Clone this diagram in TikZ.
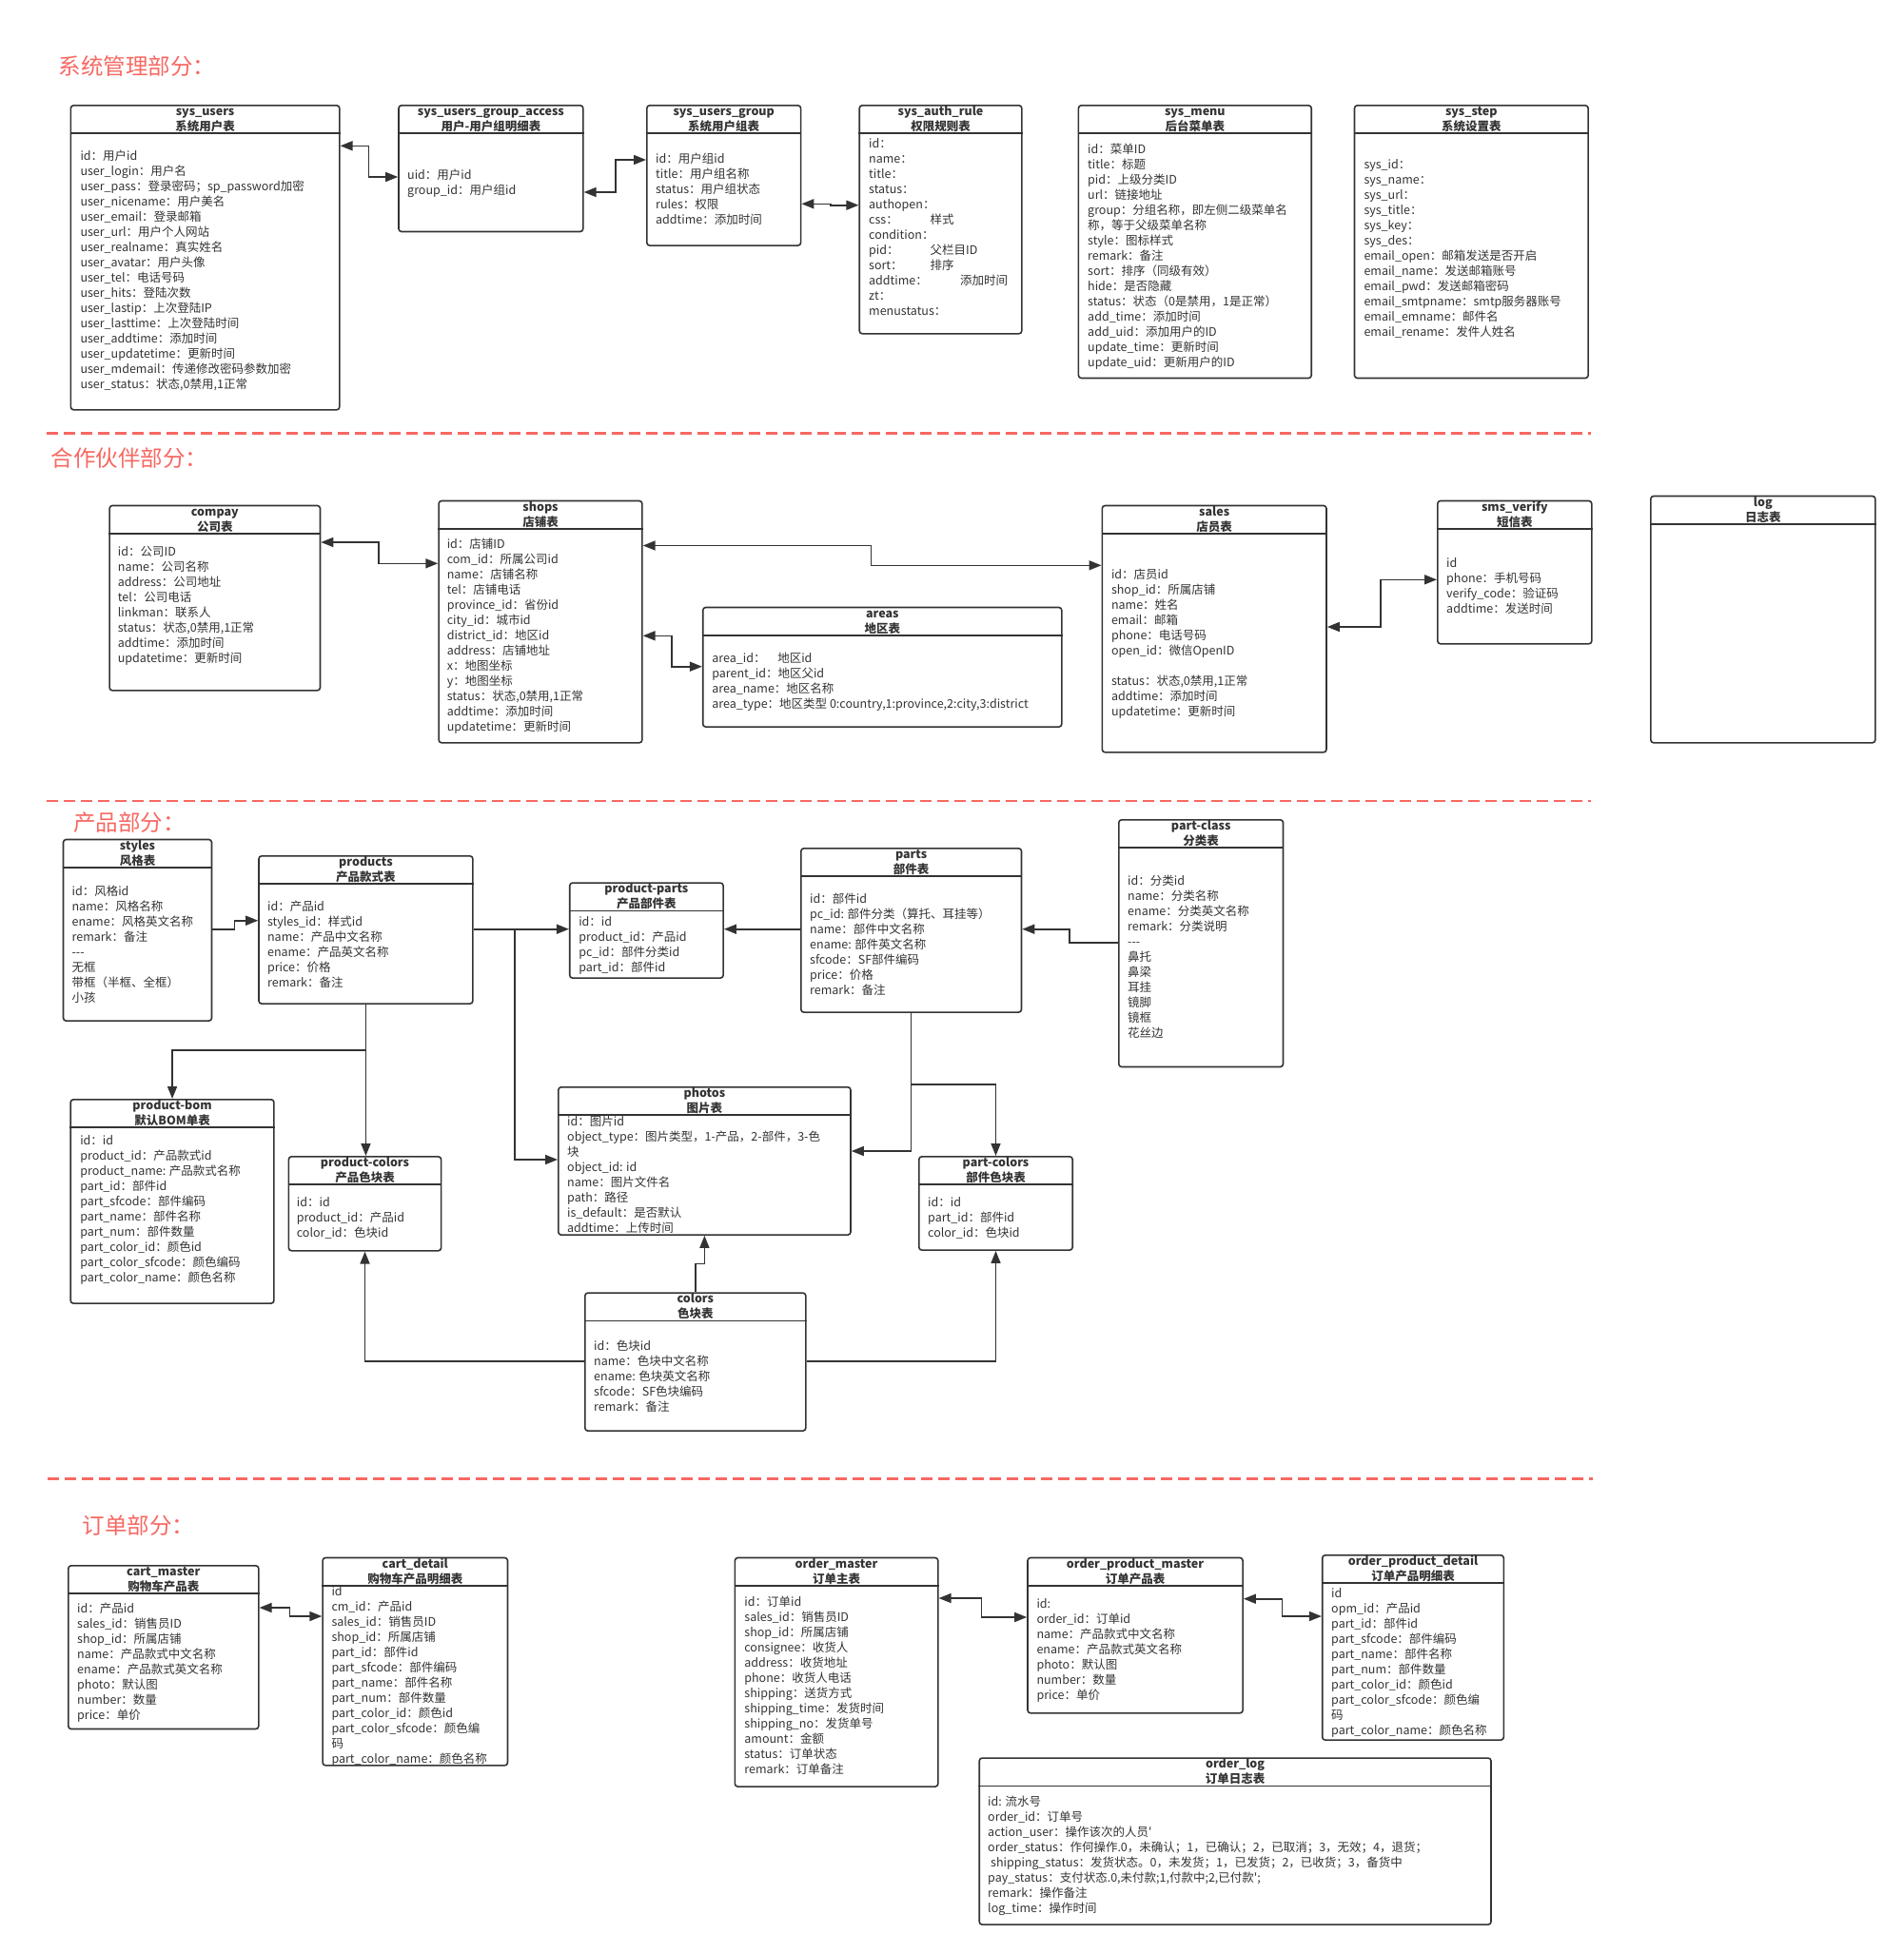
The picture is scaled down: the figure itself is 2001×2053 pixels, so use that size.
\documentclass[tikz,border=0pt]{standalone}
\usepackage{fontspec}
\setmainfont{Noto Sans CJK SC}[Ligatures=TeXOff]
\usetikzlibrary{arrows.meta}
\definecolor{ink}{HTML}{333333}
\definecolor{partred}{HTML}{F76862}

\begin{document}
\begin{tikzpicture}[x=1pt, y=-1pt, >={Triangle[length=13pt,width=10pt]}]

    \tikzset{%
    every table/.style={
        draw=ink,
        line width=1.6pt,
        rounded corners=3pt,
        inner sep=0pt,
        anchor=north west
        },
    table head/.style={
        anchor=north,
        inner sep=0pt,
        align=center,
        text=ink,
        font=\bfseries\fontsize{12.5}{16}\selectfont
        },
    table body/.style={
        anchor=north west,
        inner sep=0pt,
        align=left,
        text=ink,
        font=\fontsize{12.5}{16}\selectfont
        },
    part title/.style={
        anchor=west,
        inner sep=0pt,
        text=partred,
        font=\fontsize{23.5}{28}\selectfont
        },
    part line/.style={draw=partred, line width=2.5pt, dash pattern=on 12pt off 6pt},
    link/.style={draw=ink, line width=1.6pt},
    }

    % Page
    \path[fill=white] (0,0) rectangle (2001,2053);

    % Part titles
    \node[part title] (part-sys) at (61.5,69.4) {系统管理部分：};
    \node[part title] (part-partner) at (53.7,482) {合作伙伴部分：};
    \node[part title] (part-product) at (76.8,865) {产品部分：};
    \node[part title] (part-order) at (86.4,1604) {订单部分：};

    % Dashed separators
    \draw[part line] (48.5,455.7) -- (1672.4,455.7);
    \draw[part line] (48.5,842) -- (1672.4,842);
    \draw[part line] (49.8,1554.5) -- (1673.7,1554.5);

    % Table boxes: name/left/top/width/height
    \foreach \n/\x/\y/\w/\h in {susers/73.6/110/282.4/320, access/418.2/110/193.8/132.7,
      group/679/110/161.8/147.3, authrule/902.4/110/170.6/240, smenu/1132.6/110/244.8/286.7,
      sstep/1422.7/110/245.6/286.7, compay/114.3/530.7/221.4/194.3, shops/460.3/525.7/213.8/254.3,
      areas/737.9/637.7/377.1/125.6, sales/1157.5/530.7/235.7/259.3, sms/1510/525.7/162/150.3,
      log/1734/520.7/236/259.3, styles/65.7/881.7/156/190.6, products/271.2/899/224.9/155.3,
      pparts/597.9/927.3/161.4/100, parts/841/891/231.7/172.3, pclass/1175/861/172.7/259.7,
      pbom/73.4/1155/213.7/214.3, pcolors/302.6/1215/160.2/99, photos/586/1142/307.2/155.3,
      colors/614/1358.3/232/145, partcolors/965/1215/161.4/98.3, cartm/71/1645/200/171.7,
      cartd/338.3/1636.7/194.4/218.3, om/771.6/1636.7/213.4/240.6, opm/1079.2/1636.7/226.1/163.3,
      opd/1388.9/1634/190.6/194.3, olog/1028.4/1847.3/537.8/175}
    \node[every table, minimum width=\w pt, minimum height=\h pt] (\n) at (\x,\y) {};

    % Table headers
    \foreach \n/\a/\b in {susers/sys\_users/系统用户表, access/sys\_users\_group\_access/用户-用户组明细表,
      group/sys\_users\_group/系统用户组表, authrule/sys\_auth\_rule/权限规则表, smenu/sys\_menu/后台菜单表,
      sstep/sys\_step/系统设置表, compay/compay/公司表, shops/shops/店铺表, areas/areas/地区表,
      sales/sales/店员表, sms/sms\_verify/短信表, log/log/日志表, styles/styles/风格表,
      products/products/产品款式表, pparts/product-parts/产品部件表, parts/parts/部件表,
      pclass/part-class/分类表, pbom/product-bom/默认BOM单表, pcolors/product-colors/产品色块表,
      photos/photos/图片表, colors/colors/色块表, partcolors/part-colors/部件色块表,
      cartm/cart\_master/购物车产品表, cartd/cart\_detail/购物车产品明细表, om/order\_master/订单主表,
      opm/order\_product\_master/订单产品表, opd/order\_product\_detail/订单产品明细表,
      olog/order\_log/订单日志表}
    {
    \draw[link] ([yshift=-30pt]\n.north west) -- ([yshift=-30pt]\n.north east);
    \node[table head] (\n-head) at (\n.north) {\strut\a\\\b};
    }

    % Fields of the system tables
    \node[table body] (susers-body) at (84.3,156.9) {\strut id：用户id\\user\_login：用户名\\user\_pass：登录密码；sp\_password加密\\user\_nicename：用户美名\\user\_email：登录邮箱\\user\_url：用户个人网站\\user\_realname：真实姓名\\user\_avatar：用户头像\\user\_tel：电话号码\\user\_hits：登陆次数\\user\_lastip：上次登陆IP\\user\_lasttime：上次登陆时间\\user\_addtime：添加时间\\user\_updatetime：更新时间\\user\_mdemail：传递修改密码参数加密\\user\_status：状态,0禁用,1正常};
    \node[table body] (access-body) at (428,176.9) {\strut uid：用户id\\group\_id：用户组id};
    \node[table body] (group-body) at (689,160.3) {\strut id：用户组id\\title：用户组名称\\status：用户组状态\\rules：权限\\addtime：添加时间};
    \node[table body] (authrule-body) at (913,143.6) {\strut id：\\name：\\title：\\status：\\authopen：\\\makebox[64.5pt][l]{css：}样式\\condition：\\\makebox[64.5pt][l]{pid：}父栏目ID\\\makebox[64.5pt][l]{sort：}排序\\\makebox[96pt][l]{addtime：}添加时间\\zt：\\menustatus：};
    \node[table body] (smenu-body) at (1143,149.6) {\strut id：菜单ID\\title：标题\\pid：上级分类ID\\url：链接地址\\group：分组名称，即左侧二级菜单名\\称，等于父级菜单名称\\style：图标样式\\remark：备注\\sort：排序（同级有效）\\hide：是否隐藏\\status：状态（0是禁用，1是正常）\\add\_time：添加时间\\add\_uid：添加用户的ID\\update\_time：更新时间\\update\_uid：更新用户的ID};
    \node[table body] (sstep-body) at (1433.3,166.3) {\strut sys\_id：\\sys\_name：\\sys\_url：\\sys\_title：\\sys\_key：\\sys\_des：\\email\_open：邮箱发送是否开启\\email\_name：发送邮箱账号\\email\_pwd：发送邮箱密码\\email\_smtpname：smtp服务器账号\\email\_emname：邮件名\\email\_rename：发件人姓名};

    % Fields of the partner tables
    \node[table body] (compay-body) at (123.7,572.9) {\strut id：公司ID\\name：公司名称\\address：公司地址\\tel：公司电话\\linkman：联系人\\status：状态,0禁用,1正常\\addtime：添加时间\\updatetime：更新时间};
    \node[table body] (shops-body) at (469.6,565.3) {\strut id：店铺ID\\com\_id：所属公司id\\name：店铺名称\\tel：店铺电话\\province\_id：省份id\\city\_id：城市id\\district\_id：地区id\\address：店铺地址\\x：地图坐标\\y：地图坐标\\status：状态,0禁用,1正常\\addtime：添加时间\\updatetime：更新时间};
    \node[table body] (areas-body) at (748.1,685.3) {\strut\makebox[69pt][l]{area\_id：}地区id\\parent\_id：地区父id\\area\_name：地区名称\\area\_type：地区类型 0:country,1:province,2:city,3:district};
    \node[table body] (sales-body) at (1167.8,596.9) {\strut id：店员id\\shop\_id：所属店铺\\name：姓名\\email：邮箱\\phone：电话号码\\open\_id：微信OpenID\\\strut\\status：状态,0禁用,1正常\\addtime：添加时间\\updatetime：更新时间};
    \node[table body] (sms-body) at (1520,584.6) {\strut id\\phone：手机号码\\verify\_code：验证码\\addtime：发送时间};

    % Fields of the product tables
    \node[table body] (styles-body) at (75.4,930.3) {\strut id：风格id\\name：风格名称\\ename：风格英文名称\\remark：备注\\---\\无框\\带框（半框、全框）\\小孩};
    \node[table body] (products-body) at (280.9,946.3) {\strut id：产品id\\styles\_id：样式id\\name：产品中文名称\\ename：产品英文名称\\price：价格\\remark：备注};
    \node[table body] (pparts-body) at (608.1,961.9) {\strut id：id\\product\_id：产品id\\pc\_id：部件分类id\\part\_id：部件id};
    \node[table body] (parts-body) at (851,937.9) {\strut id：部件id\\pc\_id: 部件分类（算托、耳挂等）\\name：部件中文名称\\ename: 部件英文名称\\sfcode：SF部件编码\\price：价格\\remark：备注};
    \node[table body] (pclass-body) at (1185,919.3) {\strut id：分类id\\name：分类名称\\ename：分类英文名称\\remark：分类说明\\---\\鼻托\\鼻梁\\耳挂\\镜脚\\镜框\\花丝边};
    \node[table body] (pbom-body) at (84.1,1191.9) {\strut id：id\\product\_id：产品款式id\\product\_name: 产品款式名称\\part\_id：部件id\\part\_sfcode：部件编码\\part\_name：部件名称\\part\_num：部件数量\\part\_color\_id：颜色id\\part\_color\_sfcode：颜色编码\\part\_color\_name：颜色名称};
    \node[table body] (pcolors-body) at (311.7,1256.9) {\strut id：id\\product\_id：产品id\\color\_id：色块id};
    \node[table body] (photos-body) at (596,1172.3) {\strut id：图片id\\object\_type：图片类型，1-产品，2-部件，3-色\\块\\object\_id: id\\name：图片文件名\\path：路径\\is\_default：是否默认\\addtime：上传时间};
    \node[table body] (colors-body) at (624,1407.9) {\strut id：色块id\\name：色块中文名称\\ename: 色块英文名称\\sfcode：SF色块编码\\remark：备注};
    \node[table body] (partcolors-body) at (975,1256.9) {\strut id：id\\part\_id：部件id\\color\_id：色块id};

    % Fields of the order tables
    \node[table body] (cartm-body) at (81,1684.3) {\strut id：产品id\\sales\_id：销售员ID\\shop\_id：所属店铺\\name：产品款式中文名称\\ename：产品款式英文名称\\photo：默认图\\number：数量\\price：单价};
    \node[table body] (cartd-body) at (348.3,1665.9) {\strut id\\cm\_id：产品id\\sales\_id：销售员ID\\shop\_id：所属店铺\\part\_id：部件id\\part\_sfcode：部件编码\\part\_name：部件名称\\part\_num：部件数量\\part\_color\_id：颜色id\\part\_color\_sfcode：颜色编\\码\\part\_color\_name：颜色名称};
    \node[table body] (om-body) at (782.2,1676.9) {\strut id：订单id\\sales\_id：销售员ID\\shop\_id：所属店铺\\consignee：收货人\\address：收货地址\\phone：收货人电话\\shipping：送货方式\\shipping\_time：发货时间\\shipping\_no：发货单号\\amount：金额\\status：订单状态\\remark：订单备注};
    \node[table body] (opm-body) at (1089.3,1678.6) {\strut id:\\order\_id：订单id\\name：产品款式中文名称\\ename：产品款式英文名称\\photo：默认图\\number：数量\\price：单价};
    \node[table body] (opd-body) at (1399,1667.6) {\strut id\\opm\_id：产品id\\part\_id：部件id\\part\_sfcode：部件编码\\part\_name：部件名称\\part\_num：部件数量\\part\_color\_id：颜色id\\part\_color\_sfcode：颜色编\\码\\part\_color\_name：颜色名称};
    \node[table body] (olog-body) at (1038,1886.9) {\strut id: 流水号\\order\_id：订单号\\action\_user：操作该次的人员'\\order\_status：作何操作.0，未确认；1，已确认；2，已取消；3，无效；4，退货；\\\hspace{3pt}shipping\_status：发货状态。0，未发货；1，已发货；2，已收货；3，备货中\\pay\_status：支付状态.0,未付款;1,付款中;2,已付款';\\remark：操作备注\\log\_time：操作时间};

    % System links
    \draw[link,<->] (susers.east |- 0,153.3) -- (387.5,153.3) -- (387.5,186) -- (access.west |- 0,186);
    \draw[link,<->] (access.east |- 0,202) -- (647,202) -- (647,168) -- (group.west |- 0,168);
    \draw[link,<->] (group.east |- 0,214.3) -- (873,214.3) -- (873,215.7) -- (authrule.west |- 0,215.7);

    % Partner links
    \draw[link,<->] (compay.east |- 0,570) -- (397.8,570) -- (397.8,592.3) -- (shops.west |- 0,592.3);
    \draw[link,<->] (shops.east |- 0,573.5) -- (915.5,573.5) -- (915.5,594.3) -- (sales.west |- 0,594.3);
    \draw[link,<->] (shops.east |- 0,668.3) -- (705.8,668.3) -- (705.8,700.7) -- (areas.west |- 0,700.7);
    \draw[link,<->] (sales.east |- 0,659) -- (1451,659) -- (1451,609.3) -- (sms.west |- 0,609.3);

    % Product links
    \draw[link,->] (styles.east |- 0,976.7) -- (246.5,976.7) -- (246.5,967.7) -- (products.west |- 0,967.7);
    \draw[link,->] (products.east |- 0,976.7) -- (pparts.west |- 0,976.7);
    \draw[link,->] (products.east |- 0,976.7) -- (541.2,976.7) -- (541.2,1219) -- (photos.west |- 0,1219);
    \draw[link,->] (parts.west |- 0,976.7) -- (pparts.east |- 0,976.7);
    \draw[link,->] (pclass.west |- 0,991) -- (1124,991) -- (1124,976.7) -- (parts.east |- 0,976.7);
    \draw[link,->] (products.south) -- (products.south |- pcolors.north);
    \draw[link,->] (products.south) -- (products.south |- 0,1104) -- (pbom.north |- 0,1104) -- (pbom.north);
    \draw[link,->] (parts.south) -- (parts.south |- 0,1210) -- (photos.east |- 0,1210);
    \draw[link,->] (parts.south) -- (parts.south |- 0,1140) -- (partcolors.north |- 0,1140) -- (partcolors.north);
    \draw[link,->] (colors.north) -- (colors.north |- 0,1328.3) -- (photos.south |- 0,1328.3) -- (photos.south);
    \draw[link,->] (colors.west |- 0,1431) -- (pcolors.south |- 0,1431) -- (pcolors.south);
    \draw[link,->] (colors.east |- 0,1431) -- (partcolors.south |- 0,1431) -- (partcolors.south);

    % Order links
    \draw[link,<->] (cartm.east |- 0,1690) -- (304.3,1690) -- (304.3,1699) -- (cartd.west |- 0,1699);
    \draw[link,<->] (om.east |- 0,1680) -- (1031.6,1680) -- (1031.6,1700) -- (opm.west |- 0,1700);
    \draw[link,<->] (opm.east |- 0,1680.7) -- (1347.6,1680.7) -- (1347.6,1699) -- (opd.west |- 0,1699);

\end{tikzpicture}
\end{document}
